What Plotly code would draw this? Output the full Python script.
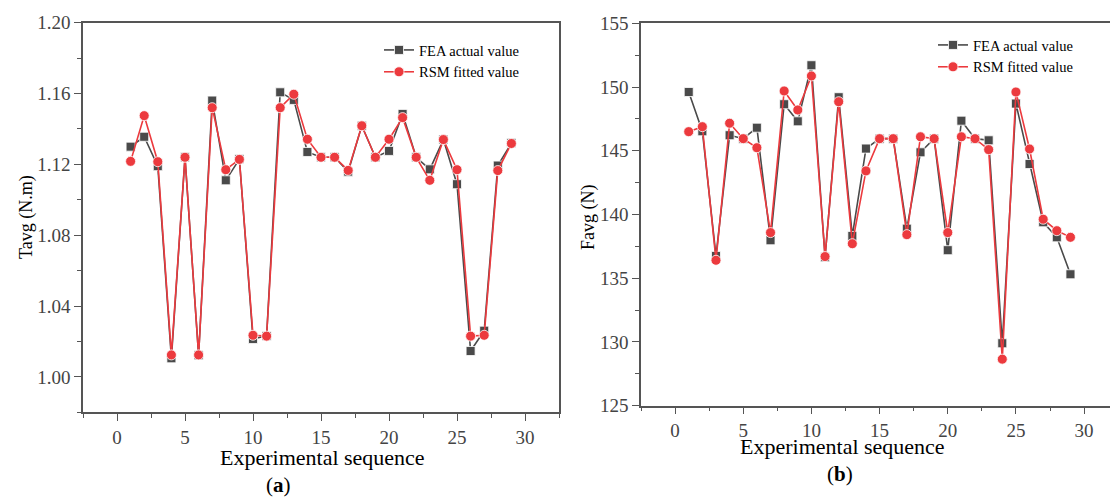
import plotly.graph_objects as go

seq = list(range(1, 30))

tavg_fea = [1.130, 1.1356, 1.119, 1.0105, 1.124, 1.0122, 1.156, 1.111, 1.123, 1.0214,
            1.0231, 1.1607, 1.1564, 1.127, 1.124, 1.124, 1.1159, 1.1418, 1.124, 1.1276,
            1.1485, 1.124, 1.1172, 1.134, 1.1088, 1.0146, 1.0261, 1.1193, 1.132]
tavg_rsm = [1.1217, 1.1475, 1.1215, 1.0124, 1.124, 1.0124, 1.152, 1.117, 1.1228, 1.0235,
            1.023, 1.152, 1.1596, 1.1342, 1.124, 1.124, 1.1166, 1.1418, 1.124, 1.1342,
            1.1464, 1.124, 1.111, 1.134, 1.117, 1.023, 1.0235, 1.1165, 1.1318]

favg_fea = [149.61, 146.53, 136.75, 146.22, 145.95, 146.81, 137.98, 148.65, 147.31, 151.71,
            136.65, 149.2, 138.32, 145.17, 145.95, 145.95, 138.89, 144.88, 145.95, 137.2,
            147.36, 145.95, 145.82, 129.9, 148.7, 143.96, 139.39, 138.21, 135.31]
favg_rsm = [146.5, 146.89, 136.41, 147.16, 145.95, 145.24, 138.58, 149.69, 148.2, 150.87,
            136.7, 148.85, 137.71, 143.42, 145.95, 145.95, 138.42, 146.1, 145.95, 138.58,
            146.1, 145.95, 145.09, 128.65, 149.61, 145.14, 139.63, 138.73, 138.21]

names = ["FEA actual value", "RSM fitted value"]
x_ticks = [0, 5, 10, 15, 20, 25, 30]
ta_ticks = [1.00, 1.04, 1.08, 1.12, 1.16, 1.20]
fa_ticks = [125, 130, 135, 140, 145, 150, 155]

FONT = "Liberation Serif"
GRAY = "#4a4a4a"
RED = "#ec3a3e"
W, H = 1110, 498

fig = go.Figure()

def add_pair(xa, ya, fea, rsm, legend):
    fig.add_trace(go.Scatter(
        x=seq, y=fea, mode="lines+markers", name=names[0], xaxis=xa, yaxis=ya,
        line=dict(color=GRAY, width=1.6),
        marker=dict(symbol="square", size=9, color=GRAY, line=dict(color="white", width=0.8)),
        legend=legend))
    fig.add_trace(go.Scatter(
        x=seq, y=rsm, mode="lines+markers", name=names[1], xaxis=xa, yaxis=ya,
        line=dict(color=RED, width=1.6),
        marker=dict(symbol="circle", size=10, color=RED, line=dict(color="white", width=0.8)),
        legend=legend))

add_pair("x", "y", tavg_fea, tavg_rsm, "legend")
add_pair("x2", "y2", favg_fea, favg_rsm, "legend2")

def px_x(p):
    return p / W

def px_y(p):
    return 1 - p / H

axis_common = dict(
    showline=True, linecolor="#555555", linewidth=1.5, mirror=True,
    ticks="outside", ticklen=7, tickwidth=1.3, tickcolor="#555555",
    showgrid=False, zeroline=False, automargin=False,
    tickfont=dict(family=FONT, size=19, color="#444444"),
)
minor_common = dict(ticks="outside", ticklen=4, tickcolor="#555555", tickwidth=1.2)

fig.update_layout(
    template="none",
    width=W, height=H,
    margin=dict(l=0, r=0, t=0, b=0, autoexpand=False),
    paper_bgcolor="white", plot_bgcolor="white",
    font=dict(family=FONT, color="black"),
    xaxis=dict(domain=[px_x(83), px_x(559)], range=[-2.5, 32.5], anchor="y",
               tickvals=x_ticks, minor=dict(dtick=2.5, tick0=0, **minor_common),
               **axis_common),
    yaxis=dict(domain=[px_y(412.3), px_y(22.7)], range=[0.98, 1.20], anchor="x",
               tickvals=ta_ticks, tickformat=".2f",
               minor=dict(dtick=0.02, tick0=0, **minor_common),
               **axis_common),
    xaxis2=dict(domain=[px_x(641), 1.0], range=[-2.5, 31.9], anchor="y2",
                tickvals=x_ticks, minor=dict(dtick=2.5, tick0=0, **minor_common),
                **axis_common),
    yaxis2=dict(domain=[px_y(405.7), px_y(23.3)], range=[125, 155], anchor="x2",
                tickvals=fa_ticks, minor=dict(dtick=2.5, tick0=0, **minor_common),
                **axis_common),
    legend=dict(x=px_x(379), y=px_y(34), xanchor="left", yanchor="top",
                bgcolor="rgba(0,0,0,0)", font=dict(family=FONT, size=14.5, color="black"),
                tracegroupgap=0, itemwidth=30),
    legend2=dict(x=px_x(933), y=px_y(29), xanchor="left", yanchor="top",
                 bgcolor="rgba(0,0,0,0)", font=dict(family=FONT, size=14.5, color="black"),
                 tracegroupgap=0, itemwidth=30),
)

annots = [
    dict(text="Tavg (N.m)", x=px_x(26), y=px_y(217), textangle=-90, size=18),
    dict(text="Favg (N)", x=px_x(588), y=px_y(217), textangle=-90, size=18),
    dict(text="Experimental sequence", x=px_x(322), y=px_y(457), textangle=0, size=22),
    dict(text="Experimental sequence", x=px_x(842), y=px_y(446), textangle=0, size=22),
    dict(text="(<b>a</b>)", x=px_x(278), y=px_y(485), textangle=0, size=21),
    dict(text="(<b>b</b>)", x=px_x(840), y=px_y(474), textangle=0, size=21),
]
for a in annots:
    fig.add_annotation(text=a["text"], x=a["x"], y=a["y"], xref="paper", yref="paper",
                       xanchor="center", yanchor="middle", showarrow=False,
                       textangle=a["textangle"],
                       font=dict(family=FONT, size=a["size"], color="black"))

fig.write_html("out.html")
